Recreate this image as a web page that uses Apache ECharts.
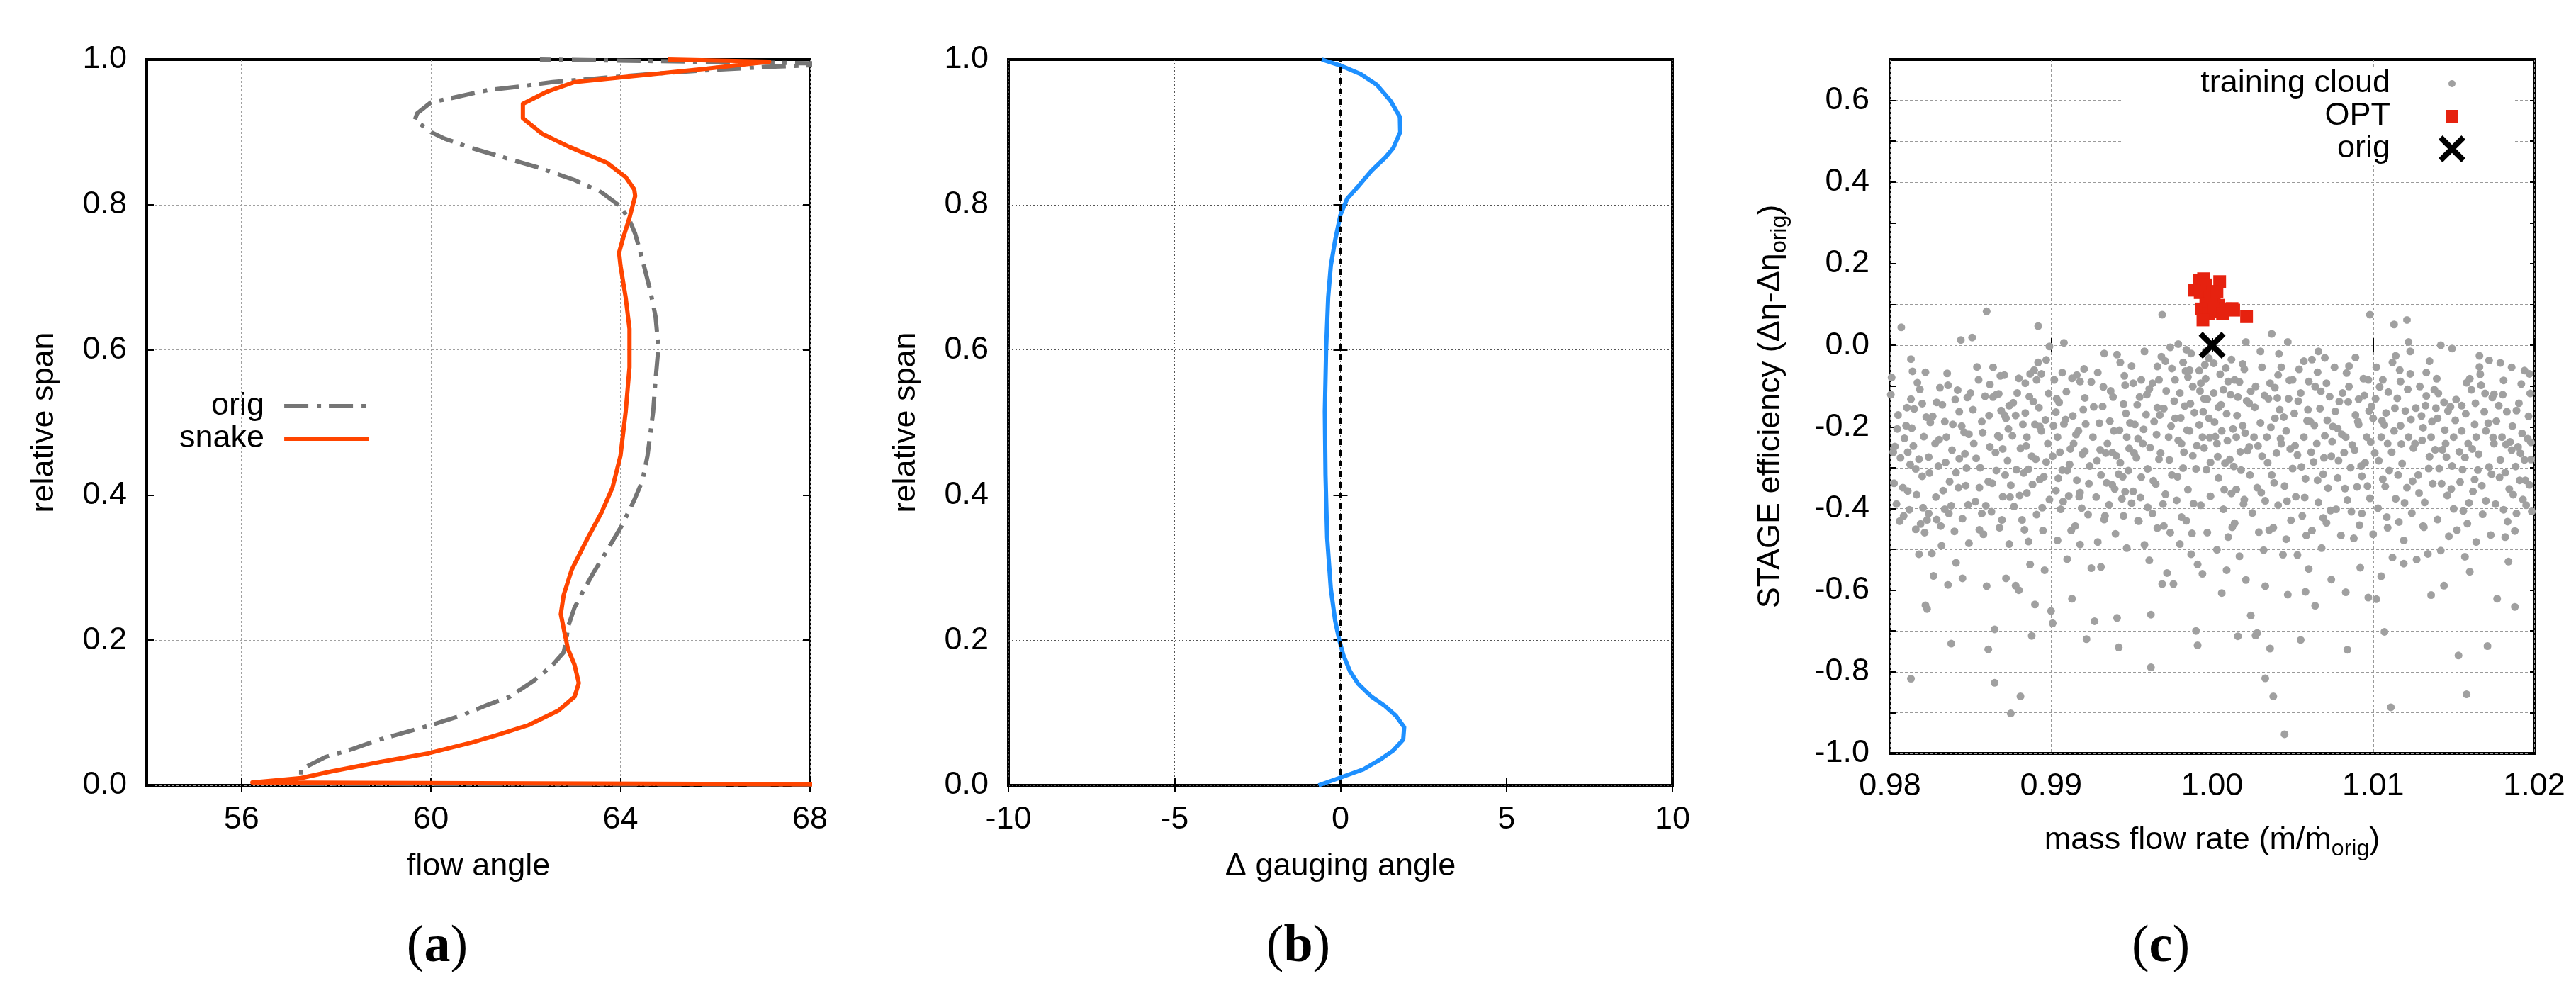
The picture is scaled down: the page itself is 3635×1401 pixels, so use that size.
<!DOCTYPE html>
<html><head><meta charset="utf-8">
<script src="https://cdn.jsdelivr.net/npm/echarts@6/dist/echarts.min.js"></script>
<style>html,body{margin:0;padding:0;background:#fff}#c{width:3635px;height:1401px}</style>
</head><body><div id="c"></div>
<script>
// ---------- DATA ----------
// (a) flow angle vs relative span
const flowOrig = [[70,0.001],[57.26,0.002],[57.26,0.022],[57.77,0.039],[58.34,0.050],[58.91,0.063],[60.00,0.083],[60.63,0.096],[61.20,0.111],[61.66,0.122],[62.17,0.144],[62.57,0.166],[62.80,0.183],[62.86,0.201],[62.89,0.218],[63.03,0.245],[63.20,0.266],[63.43,0.293],[63.71,0.323],[64.03,0.358],[64.29,0.393],[64.46,0.419],[64.57,0.454],[64.69,0.515],[64.74,0.559],[64.80,0.603],[64.74,0.646],[64.63,0.681],[64.46,0.725],[64.31,0.760],[64.17,0.782],[63.97,0.799],[63.60,0.817],[63.03,0.834],[62.23,0.852],[61.54,0.865],[60.86,0.878],[60.29,0.891],[60.00,0.900],[59.66,0.917],[59.71,0.926],[60.00,0.941],[60.51,0.948],[61.20,0.958],[61.89,0.963],[62.57,0.969],[63.49,0.974],[64.63,0.980],[65.77,0.985],[67.14,0.990],[68.00,0.992],[69.0,0.994],[62.3,1.0]];
const flowSnake = [[70,0.001],[56.23,0.004],[57.26,0.010],[57.89,0.019],[58.91,0.032],[59.94,0.044],[60.86,0.059],[61.43,0.070],[62.06,0.083],[62.69,0.103],[63.03,0.122],[63.12,0.141],[63.03,0.166],[62.89,0.188],[62.82,0.210],[62.74,0.236],[62.80,0.262],[62.97,0.297],[63.31,0.341],[63.60,0.376],[63.83,0.410],[64.00,0.454],[64.11,0.515],[64.19,0.576],[64.19,0.629],[64.11,0.672],[64.00,0.716],[63.97,0.734],[64.06,0.755],[64.19,0.782],[64.31,0.812],[64.29,0.821],[64.11,0.838],[63.71,0.858],[62.91,0.880],[62.34,0.898],[61.94,0.919],[61.94,0.939],[62.46,0.956],[63.03,0.969],[64.40,0.978],[65.77,0.987],[67.14,0.997],[65.0,1.0]];
const flowTicks = [56, 60, 64, 68];
// (b) delta gauging angle
const gauging = [[-0.66,0.0],[-0.04,0.010],[0.69,0.022],[1.18,0.035],[1.59,0.048],[1.89,0.063],[1.92,0.080],[1.67,0.096],[1.35,0.109],[0.94,0.122],[0.53,0.140],[0.29,0.157],[0.09,0.179],[-0.04,0.201],[-0.16,0.227],[-0.29,0.271],[-0.40,0.341],[-0.45,0.428],[-0.47,0.515],[-0.43,0.603],[-0.37,0.672],[-0.29,0.716],[-0.16,0.751],[0.0,0.786],[0.20,0.808],[0.53,0.825],[0.94,0.847],[1.35,0.865],[1.59,0.878],[1.80,0.900],[1.79,0.921],[1.51,0.943],[1.10,0.965],[0.61,0.980],[0.04,0.991],[-0.56,1.0]];
const zeroLine = [[0,0],[0,1]];
// (c) training cloud, OPT, orig
const trainingCloud = [
[0.9801,-0.079],[0.9803,-0.248],[0.9802,-0.262],[0.9804,-0.389],[0.9806,-0.431],[0.9807,0.044],[0.9809,-0.228],[0.9810,-0.197],[0.9811,-0.357],[0.9812,-0.403],[0.9813,-0.034],[0.9813,-0.132],[0.9814,-0.064],[0.9815,-0.156],[0.9816,-0.451],[0.9813,-0.817],[0.9817,-0.092],[0.9818,-0.279],[0.9819,-0.438],[0.9820,-0.321],[0.9821,-0.224],[0.9822,-0.066],[0.9822,-0.637],[0.9823,-0.646],[0.9824,-0.274],[0.9824,-0.412],[0.9825,-0.189],[0.9808,-0.349],[0.9805,-0.171],[0.9818,-0.512],[0.9823,-0.428],[0.9811,-0.262],[0.9816,-0.303],[0.9820,-0.143],
[0.9826,-0.510],[0.9827,-0.565],[0.9828,-0.241],[0.9829,-0.427],[0.9830,-0.296],[0.9831,-0.104],[0.9832,-0.491],[0.9833,-0.356],[0.9834,-0.187],[0.9835,-0.225],[0.9836,-0.587],[0.9836,-0.098],[0.9837,-0.334],[0.9838,-0.731],[0.9838,-0.393],[0.9839,-0.194],[0.9840,-0.456],[0.9841,-0.312],[0.9842,-0.110],[0.9843,-0.163],[0.9843,-0.278],[0.9844,0.013],[0.9845,-0.425],[0.9845,-0.571],[0.9846,-0.213],[0.9847,-0.344],[0.9848,-0.128],[0.9849,-0.218],[0.9849,-0.485],[0.9850,-0.117],[0.9851,0.019],[0.9834,-0.402],[0.9829,-0.140],[0.9841,-0.533],
[0.9852,-0.241],[0.9853,-0.383],[0.9854,-0.053],[0.9855,-0.085],[0.9856,-0.300],[0.9857,-0.187],[0.9858,-0.463],[0.9859,-0.125],[0.9860,0.083],[0.9860,-0.590],[0.9861,-0.745],[0.9861,-0.334],[0.9862,-0.096],[0.9862,-0.249],[0.9863,-0.408],[0.9864,-0.054],[0.9864,-0.127],[0.9865,-0.827],[0.9865,-0.696],[0.9866,-0.307],[0.9867,-0.222],[0.9868,-0.225],[0.9868,-0.447],[0.9869,-0.160],[0.9870,-0.371],[0.9871,-0.073],[0.9871,-0.171],[0.9872,-0.179],[0.9872,-0.571],[0.9873,-0.283],[0.9874,-0.148],[0.9874,-0.487],[0.9875,-0.902],[0.9875,-0.343],[0.9857,-0.412],[0.9866,-0.121],[0.9870,-0.254],
[0.9876,-0.222],[0.9877,-0.395],[0.9878,-0.589],[0.9879,-0.117],[0.9880,-0.081],[0.9880,-0.600],[0.9881,-0.253],[0.9881,-0.860],[0.9882,-0.428],[0.9883,-0.313],[0.9884,-0.093],[0.9884,-0.166],[0.9885,-0.225],[0.9885,-0.362],[0.9886,-0.481],[0.9887,-0.070],[0.9887,-0.537],[0.9888,-0.712],[0.9888,-0.272],[0.9889,-0.138],[0.9890,-0.194],[0.9890,-0.635],[0.9891,-0.085],[0.9891,-0.415],[0.9892,0.047],[0.9892,-0.042],[0.9893,-0.329],[0.9894,-0.210],[0.9894,-0.070],[0.9895,-0.454],[0.9896,-0.551],[0.9897,-0.036],[0.9897,-0.286],[0.9898,-0.241],[0.9899,-0.003],[0.9899,-0.378],[0.9878,-0.172],[0.9886,-0.304],[0.9893,-0.199],
[0.9900,-0.651],[0.9901,-0.272],[0.9901,-0.681],[0.9902,-0.085],[0.9903,-0.356],[0.9904,-0.225],[0.9904,-0.478],[0.9905,-0.140],[0.9906,-0.402],[0.9907,-0.067],[0.9907,-0.306],[0.9908,0.006],[0.9908,-0.193],[0.9909,-0.182],[0.9910,-0.524],[0.9911,-0.369],[0.9912,-0.254],[0.9913,-0.081],[0.9913,-0.621],[0.9914,-0.241],[0.9915,-0.443],[0.9916,-0.073],[0.9916,-0.331],[0.9917,-0.210],[0.9918,-0.089],[0.9918,-0.488],[0.9919,-0.399],[0.9920,-0.158],[0.9921,-0.129],[0.9921,-0.260],[0.9922,-0.720],[0.9923,-0.415],[0.9924,-0.296],[0.9925,-0.090],[0.9925,-0.546],[0.9910,-0.307],[0.9918,-0.361],[0.9903,-0.164],
[0.9926,-0.225],[0.9927,-0.676],[0.9928,-0.372],[0.9929,-0.067],[0.9929,-0.482],[0.9930,-0.191],[0.9931,-0.318],[0.9932,-0.150],[0.9933,-0.020],[0.9933,-0.427],[0.9934,-0.264],[0.9935,-0.241],[0.9936,-0.391],[0.9937,-0.112],[0.9938,-0.342],[0.9939,-0.210],[0.9940,-0.462],[0.9941,-0.023],[0.9941,-0.668],[0.9942,-0.316],[0.9942,-0.740],[0.9943,-0.042],[0.9943,-0.288],[0.9944,-0.376],[0.9945,-0.144],[0.9946,-0.098],[0.9946,-0.359],[0.9947,-0.225],[0.9947,-0.497],[0.9948,-0.307],[0.9949,-0.190],[0.9950,-0.387],[0.9950,-0.051],[0.9931,-0.543],[0.9938,-0.263],[0.9945,-0.418],
[0.9951,-0.093],[0.9951,-0.358],[0.9952,-0.194],[0.9953,-0.276],[0.9954,-0.430],[0.9955,-0.127],[0.9956,-0.085],[0.9956,-0.323],[0.9957,-0.241],[0.9958,-0.015],[0.9958,-0.489],[0.9959,-0.170],[0.9960,-0.303],[0.9960,-0.397],[0.9961,-0.107],[0.9962,-0.789],[0.9962,-0.660],[0.9963,-0.093],[0.9963,-0.412],[0.9964,-0.187],[0.9965,-0.340],[0.9966,-0.052],[0.9966,-0.448],[0.9967,-0.085],[0.9967,-0.279],[0.9968,-0.264],[0.9969,0.075],[0.9969,-0.585],[0.9970,-0.443],[0.9970,-0.155],[0.9971,-0.039],[0.9971,-0.365],[0.9972,-0.558],[0.9973,-0.225],[0.9974,-0.005],[0.9974,-0.459],[0.9975,-0.057],[0.9975,-0.318],[0.9954,-0.229],[0.9961,-0.527],[0.9966,-0.153],
[0.9976,-0.585],[0.9977,-0.085],[0.9977,-0.179],[0.9978,-0.380],[0.9979,0.003],[0.9979,-0.233],[0.9980,-0.117],[0.9980,-0.487],[0.9981,-0.241],[0.9982,-0.042],[0.9982,-0.301],[0.9983,-0.149],[0.9984,-0.011],[0.9984,-0.430],[0.9985,-0.078],[0.9985,-0.354],[0.9986,-0.210],[0.9987,-0.020],[0.9987,-0.512],[0.9988,-0.101],[0.9988,-0.271],[0.9989,-0.165],[0.9990,-0.303],[0.9990,-0.700],[0.9991,-0.537],[0.9991,-0.735],[0.9992,-0.062],[0.9993,-0.093],[0.9993,-0.392],[0.9994,-0.225],[0.9994,-0.560],[0.9995,-0.131],[0.9996,-0.015],[0.9996,-0.082],[0.9997,-0.132],[0.9997,-0.459],[0.9998,-0.179],[0.9998,-0.032],[0.9999,-0.287],[0.9999,-0.370],[0.9981,-0.421],[0.9986,-0.061],[0.9992,-0.195],[0.9995,-0.252],
[1.0001,-0.117],[1.0001,-0.044],[1.0002,-0.224],[1.0003,-0.241],[1.0003,-0.501],[1.0004,-0.325],[1.0005,-0.071],[1.0006,-0.210],[1.0006,-0.607],[1.0007,-0.109],[1.0007,-0.402],[1.0008,-0.289],[1.0009,-0.168],[1.0010,-0.089],[1.0010,-0.470],[1.0011,-0.280],[1.0012,-0.035],[1.0012,-0.363],[1.0013,-0.205],[1.0014,-0.085],[1.0014,-0.436],[1.0015,-0.225],[1.0016,-0.713],[1.0016,-0.127],[1.0017,-0.090],[1.0017,-0.517],[1.0018,-0.306],[1.0019,-0.197],[1.0019,-0.046],[1.0020,-0.059],[1.0020,-0.378],[1.0021,0.008],[1.0021,-0.575],[1.0022,-0.258],[1.0023,-0.249],[1.0023,-0.142],[1.0024,-0.113],[1.0024,-0.662],[1.0025,-0.411],[1.0004,-0.152],[1.0009,-0.551],[1.0015,-0.353],
[1.0026,-0.225],[1.0027,-0.101],[1.0027,-0.711],[1.0028,-0.349],[1.0028,-0.705],[1.0029,-0.458],[1.0030,-0.015],[1.0030,-0.190],[1.0031,-0.272],[1.0031,-0.054],[1.0032,-0.502],[1.0033,-0.816],[1.0033,-0.381],[1.0034,-0.225],[1.0035,-0.131],[1.0036,-0.093],[1.0036,-0.743],[1.0037,0.028],[1.0037,-0.318],[1.0038,-0.860],[1.0038,-0.447],[1.0039,-0.179],[1.0039,-0.104],[1.0040,-0.264],[1.0041,-0.392],[1.0042,-0.158],[1.0043,-0.054],[1.0043,-0.241],[1.0044,-0.513],[1.0045,-0.953],[1.0045,-0.345],[1.0046,-0.210],[1.0047,0.008],[1.0047,-0.611],[1.0048,-0.086],[1.0049,-0.429],[1.0050,-0.085],[1.0050,-0.302],[1.0033,-0.590],[1.0041,-0.073],[1.0046,-0.475],
[1.0051,-0.167],[1.0052,-0.371],[1.0053,-0.269],[1.0053,-0.514],[1.0054,-0.059],[1.0055,-0.117],[1.0055,-0.722],[1.0056,-0.418],[1.0057,-0.039],[1.0057,-0.225],[1.0058,-0.327],[1.0059,-0.185],[1.0060,-0.089],[1.0060,-0.548],[1.0061,-0.187],[1.0062,-0.454],[1.0063,-0.286],[1.0064,-0.101],[1.0064,-0.638],[1.0065,-0.241],[1.0066,-0.015],[1.0066,-0.385],[1.0067,-0.155],[1.0068,-0.497],[1.0069,-0.316],[1.0070,-0.031],[1.0070,-0.222],[1.0071,-0.093],[1.0071,-0.435],[1.0072,-0.350],[1.0073,-0.126],[1.0074,-0.272],[1.0074,-0.574],[1.0075,-0.199],[1.0058,-0.604],[1.0062,-0.035],[1.0069,-0.423],
[1.0076,-0.054],[1.0077,-0.402],[1.0078,-0.204],[1.0078,-0.325],[1.0079,-0.138],[1.0080,-0.466],[1.0081,-0.117],[1.0082,-0.263],[1.0083,-0.225],[1.0083,-0.605],[1.0084,-0.379],[1.0085,-0.051],[1.0085,-0.101],[1.0086,-0.300],[1.0087,-0.244],[1.0088,-0.473],[1.0089,-0.171],[1.0090,-0.347],[1.0091,-0.132],[1.0091,-0.194],[1.0092,-0.545],[1.0093,-0.412],[1.0094,-0.082],[1.0095,-0.288],[1.0096,-0.225],[1.0097,-0.085],[1.0097,-0.618],[1.0098,0.075],[1.0098,-0.375],[1.0099,-0.150],[1.0100,-0.179],[1.0100,-0.463],[1.0084,-0.746],[1.0089,-0.030],[1.0093,-0.321],
[1.0101,-0.264],[1.0102,-0.054],[1.0102,-0.622],[1.0103,-0.399],[1.0104,-0.102],[1.0105,-0.225],[1.0105,-0.566],[1.0106,-0.085],[1.0106,-0.328],[1.0107,-0.702],[1.0108,-0.166],[1.0109,-0.241],[1.0109,-0.447],[1.0110,-0.307],[1.0111,-0.887],[1.0112,-0.042],[1.0112,-0.520],[1.0113,-0.210],[1.0113,0.051],[1.0114,-0.026],[1.0114,-0.376],[1.0115,-0.130],[1.0116,-0.433],[1.0117,-0.197],[1.0117,-0.089],[1.0118,-0.290],[1.0119,-0.535],[1.0120,-0.161],[1.0121,0.062],[1.0121,-0.349],[1.0122,0.008],[1.0122,-0.225],[1.0123,-0.070],[1.0123,-0.015],[1.0124,-0.411],[1.0125,-0.252],[1.0107,-0.195],[1.0119,-0.478],
[1.0126,-0.241],[1.0127,-0.525],[1.0128,-0.318],[1.0129,-0.101],[1.0130,-0.173],[1.0131,-0.202],[1.0131,-0.443],[1.0132,-0.385],[1.0133,-0.067],[1.0133,-0.124],[1.0134,-0.511],[1.0135,-0.273],[1.0136,-0.225],[1.0136,-0.612],[1.0137,-0.339],[1.0138,-0.109],[1.0139,-0.154],[1.0140,-0.179],[1.0140,-0.427],[1.0141,-0.302],[1.0142,0.000],[1.0143,-0.256],[1.0144,-0.140],[1.0144,-0.589],[1.0145,-0.241],[1.0146,-0.368],[1.0147,-0.468],[1.0148,-0.151],[1.0149,-0.008],[1.0149,-0.296],[1.0150,-0.225],[1.0150,-0.401],[1.0135,-0.039],[1.0142,-0.503],
[1.0151,-0.184],[1.0152,-0.453],[1.0153,-0.760],[1.0154,-0.335],[1.0155,-0.210],[1.0155,-0.148],[1.0156,-0.406],[1.0157,-0.275],[1.0158,-0.855],[1.0158,-0.092],[1.0159,-0.241],[1.0160,-0.082],[1.0160,-0.555],[1.0161,-0.109],[1.0162,-0.358],[1.0163,-0.194],[1.0164,-0.225],[1.0164,-0.482],[1.0165,-0.306],[1.0166,-0.026],[1.0166,-0.053],[1.0167,-0.098],[1.0168,-0.414],[1.0169,-0.163],[1.0170,-0.210],[1.0170,-0.381],[1.0171,-0.737],[1.0172,-0.037],[1.0172,-0.298],[1.0173,-0.465],[1.0174,-0.128],[1.0175,-0.241],[1.0175,-0.120],[1.0157,-0.518],[1.0163,-0.329],
[1.0176,-0.389],[1.0177,-0.621],[1.0178,-0.148],[1.0179,-0.043],[1.0179,-0.281],[1.0180,-0.225],[1.0181,-0.403],[1.0182,-0.470],[1.0182,-0.312],[1.0183,-0.163],[1.0184,-0.530],[1.0185,-0.237],[1.0186,-0.054],[1.0186,-0.257],[1.0187,-0.366],[1.0188,-0.641],[1.0189,-0.160],[1.0189,-0.412],[1.0190,-0.249],[1.0191,-0.331],[1.0192,-0.095],[1.0193,-0.378],[1.0194,-0.062],[1.0194,-0.281],[1.0195,-0.392],[1.0196,-0.229],[1.0197,-0.070],[1.0197,-0.342],[1.0198,-0.280],[1.0198,-0.238],[1.0181,-0.086],[1.0188,-0.455],
[0.98005,-0.121],[0.98025,-0.338],[0.98045,-0.205],[0.98065,-0.276],[0.98085,-0.418],[0.98105,-0.153],[0.98125,-0.292],[0.98145,-0.247],[0.98165,-0.366],[0.98185,-0.108],[0.98205,-0.398],[0.98225,-0.176],[0.98245,-0.313],[0.98215,-0.459],[0.98135,-0.203],
[0.98265,-0.174],[0.98285,-0.372],[0.98305,-0.231],[0.98325,-0.146],[0.98345,-0.287],[0.98365,-0.412],[0.98385,-0.257],[0.98405,-0.133],[0.98425,-0.349],[0.98445,-0.198],[0.98465,-0.266],[0.98485,-0.391],[0.98355,-0.069],[0.98475,-0.301],[0.98315,-0.443],
[0.98515,-0.158],[0.98535,-0.277],[0.98555,-0.349],[0.98575,-0.214],[0.98595,-0.393],[0.98615,-0.172],[0.98635,-0.338],[0.98655,-0.263],[0.98675,-0.119],[0.98695,-0.428],[0.98715,-0.318],[0.98735,-0.205],[0.98555,-0.452],[0.98685,-0.075],[0.98745,-0.372],
[0.98765,-0.141],[0.98785,-0.305],[0.98805,-0.368],[0.98825,-0.194],[0.98845,-0.247],[0.98865,-0.126],[0.98885,-0.341],[0.98905,-0.279],[0.98925,-0.153],[0.98945,-0.398],[0.98965,-0.183],[0.98985,-0.118],[0.98835,-0.452],[0.98955,-0.322],[0.98895,-0.061],
[0.99015,-0.197],[0.99035,-0.131],[0.99055,-0.262],[0.99075,-0.383],[0.99095,-0.114],[0.99115,-0.292],[0.99135,-0.173],[0.99155,-0.219],[0.99175,-0.371],[0.99195,-0.267],[0.99215,-0.193],[0.99235,-0.339],[0.99125,-0.454],[0.99045,-0.326],[0.99205,-0.058],
[0.99265,-0.151],[0.99285,-0.283],[0.99305,-0.256],[0.99325,-0.102],[0.99345,-0.337],[0.99365,-0.186],[0.99385,-0.127],[0.99405,-0.271],[0.99425,-0.208],[0.99445,-0.322],[0.99465,-0.167],[0.99485,-0.253],[0.99335,-0.418],[0.99455,-0.075],[0.99395,-0.352],
[0.99515,-0.264],[0.99535,-0.146],[0.99555,-0.373],[0.99575,-0.206],[0.99595,-0.121],[0.99615,-0.251],[0.99635,-0.332],[0.99655,-0.219],[0.99675,-0.171],[0.99695,-0.389],[0.99715,-0.112],[0.99735,-0.281],[0.99545,-0.431],[0.99685,-0.028],[0.99745,-0.198],
[0.99765,-0.137],[0.99785,-0.322],[0.99805,-0.178],[0.99825,-0.262],[0.99845,-0.208],[0.99865,-0.143],[0.99885,-0.388],[0.99905,-0.246],[0.99925,-0.112],[0.99945,-0.163],[0.99965,-0.305],[0.99985,-0.226],[0.99835,-0.063],[0.99955,-0.048],[0.99875,-0.461],
[1.00015,-0.188],[1.00035,-0.273],[1.00055,-0.146],[1.00075,-0.354],[1.00095,-0.234],[1.00115,-0.121],[1.00135,-0.297],[1.00155,-0.172],[1.00175,-0.261],[1.00195,-0.389],[1.00215,-0.136],[1.00235,-0.318],[1.00085,-0.056],[1.00205,-0.215],[1.00125,-0.446],
[1.00265,-0.152],[1.00285,-0.247],[1.00305,-0.361],[1.00325,-0.123],[1.00345,-0.288],[1.00365,-0.201],[1.00385,-0.337],[1.00405,-0.129],[1.00425,-0.229],[1.00445,-0.176],[1.00465,-0.382],[1.00485,-0.254],[1.00355,-0.453],[1.00415,-0.021],[1.00475,-0.131],
[1.00515,-0.246],[1.00535,-0.137],[1.00555,-0.298],[1.00575,-0.373],[1.00595,-0.158],[1.00615,-0.262],[1.00635,-0.196],[1.00655,-0.331],[1.00675,-0.113],[1.00695,-0.276],[1.00715,-0.184],[1.00735,-0.405],[1.00585,-0.466],[1.00655,-0.066],[1.00745,-0.236],
[1.00765,-0.162],[1.00785,-0.283],[1.00805,-0.218],[1.00825,-0.351],[1.00845,-0.139],[1.00865,-0.408],[1.00885,-0.257],[1.00905,-0.187],[1.00925,-0.296],[1.00945,-0.123],[1.00965,-0.345],[1.00985,-0.237],[1.00835,-0.068],[1.00915,-0.441],[1.00975,-0.161],
[1.01015,-0.131],[1.01035,-0.283],[1.01055,-0.185],[1.01075,-0.346],[1.01095,-0.115],[1.01115,-0.262],[1.01135,-0.154],[1.01155,-0.318],[1.01175,-0.242],[1.01195,-0.386],[1.01215,-0.108],[1.01235,-0.182],[1.01085,-0.421],[1.01165,-0.061],[1.01245,-0.333],
[1.01265,-0.154],[1.01285,-0.362],[1.01305,-0.233],[1.01325,-0.148],[1.01345,-0.302],[1.01365,-0.187],[1.01385,-0.256],[1.01405,-0.118],[1.01425,-0.339],[1.01445,-0.208],[1.01465,-0.161],[1.01485,-0.352],[1.01315,-0.446],[1.01395,-0.082],[1.01455,-0.274],
[1.01515,-0.133],[1.01535,-0.261],[1.01555,-0.305],[1.01575,-0.168],[1.01595,-0.386],[1.01615,-0.254],[1.01635,-0.142],[1.01655,-0.267],[1.01675,-0.344],[1.01695,-0.118],[1.01715,-0.191],[1.01735,-0.316],[1.01585,-0.437],[1.01665,-0.071],[1.01745,-0.226],
[1.01765,-0.186],[1.01785,-0.324],[1.01805,-0.121],[1.01825,-0.243],[1.01845,-0.352],[1.01865,-0.198],[1.01885,-0.297],[1.01905,-0.142],[1.01925,-0.216],[1.01945,-0.331],[1.01965,-0.174],[1.01985,-0.407],[1.01835,-0.432],[1.01915,-0.265],[1.01975,-0.118]
];
const optPoints = [[0.99919,0.159],[0.99947,0.163],[0.99961,0.148],[0.99891,0.135],[0.99926,0.129],[0.99985,0.117],[1.00047,0.156],[1.00013,0.109],[0.99961,0.101],[1.00041,0.098],[1.00082,0.089],[1.00124,0.090],[0.99936,0.089],[0.99978,0.078],[1.00013,0.083],[1.00065,0.078],[1.00134,0.086],[1.00214,0.070],[0.99943,0.062],[0.99995,0.120],[1.00030,0.132]];
const origPoint = [[1.000, 0.000]];

// ---------- STYLE ----------
const F = '"Liberation Sans", Arial, Helvetica, sans-serif';
const SERIF = '"Liberation Serif", "Times New Roman", serif';
const FS = 45;
const labelBase = {color:'#000', fontSize:FS, fontFamily:F};
const tickBase = {show:true, inside:true, length:10, lineStyle:{color:'#000', width:2}};
const gridA = {color:'#a0a0a0', type:[3,3], width:1};
const gridB = {color:'#555', type:[2,3], width:1};
const gridC = {color:'#9a9a9a', type:[4,3], width:1};
const nameStyle = {color:'#000', fontSize:FS, fontFamily:F};
const xPath = 'path://M1.5,0 L5,3.5 L8.5,0 L10,1.5 L6.5,5 L10,8.5 L8.5,10 L5,6.5 L1.5,10 L0,8.5 L3.5,5 L0,1.5 Z';

function mirrorX(gi, min, max, extra) {
  return Object.assign({gridIndex:gi, type:'value', position:'top', min, max,
    axisLine:{show:false}, axisTick:Object.assign({}, tickBase), axisLabel:{show:false}, splitLine:{show:false}}, extra||{});
}
function mirrorY(gi, min, max, extra) {
  return Object.assign({gridIndex:gi, type:'value', position:'right', min, max,
    axisLine:{show:false}, axisTick:Object.assign({}, tickBase), axisLabel:{show:false}, splitLine:{show:false}}, extra||{});
}
const gridCommon = {show:true, borderColor:'#000', borderWidth:4, backgroundColor:'transparent', containLabel:false, outerBoundsMode:'none'};

const option = {
  animation:false,
  backgroundColor:'#fff',
  grid:[
    Object.assign({left:207, top:84, width:936, height:1024}, gridCommon),
    Object.assign({left:1423, top:84, width:937, height:1024}, gridCommon),
    Object.assign({left:2667, top:84, width:909, height:979}, gridCommon)
  ],
  xAxis:[
    {gridIndex:0, type:'value', min:54, max:68, position:'bottom',
      axisLine:{show:false}, axisTick:Object.assign({customValues:flowTicks}, tickBase),
      axisLabel:Object.assign({margin:26, customValues:flowTicks}, labelBase),
      splitLine:{show:true, lineStyle:gridA},
      name:'flow angle', nameLocation:'middle', nameGap:92, nameMoveOverlap:false, nameTextStyle:nameStyle},
    mirrorX(0, 54, 68, {axisTick:Object.assign({customValues:flowTicks}, tickBase)}),
    {gridIndex:1, type:'value', min:-10, max:10, interval:5, position:'bottom',
      axisLine:{show:false}, axisTick:tickBase,
      axisLabel:Object.assign({margin:26}, labelBase),
      splitLine:{show:true, lineStyle:gridB},
      name:'Δ gauging angle', nameLocation:'middle', nameGap:92, nameMoveOverlap:false, nameTextStyle:nameStyle},
    mirrorX(1, -10, 10, {interval:5}),
    {gridIndex:2, type:'value', min:0.98, max:1.02, interval:0.01, position:'bottom',
      axisLine:{show:false}, axisTick:tickBase,
      axisLabel:Object.assign({margin:24, formatter:v=>v.toFixed(2)}, labelBase),
      splitLine:{show:true, lineStyle:gridC},
      name:'{a|mass flow rate (ṁ/ṁ}{s|orig}{a|)}', nameLocation:'middle', nameGap:95, nameMoveOverlap:false,
      nameTextStyle:{rich:{a:{color:'#000', fontSize:FS, fontFamily:F, lineHeight:56}, s:{color:'#000', fontSize:32, fontFamily:F, lineHeight:32, verticalAlign:'bottom'}}}},
    mirrorX(2, 0.98, 1.02, {interval:0.01})
  ],
  yAxis:[
    {gridIndex:0, type:'value', min:0, max:1, interval:0.2, position:'left',
      axisLine:{show:false}, axisTick:tickBase,
      axisLabel:Object.assign({margin:28, formatter:v=>v.toFixed(1)}, labelBase),
      splitLine:{show:true, lineStyle:gridA},
      name:'relative span', nameLocation:'middle', nameGap:122, nameRotate:90, nameMoveOverlap:false, nameTextStyle:nameStyle},
    mirrorY(0, 0, 1, {interval:0.2}),
    {gridIndex:1, type:'value', min:0, max:1, interval:0.2, position:'left',
      axisLine:{show:false}, axisTick:tickBase,
      axisLabel:Object.assign({margin:28, formatter:v=>v.toFixed(1)}, labelBase),
      splitLine:{show:true, lineStyle:gridB},
      name:'relative span', nameLocation:'middle', nameGap:122, nameRotate:90, nameMoveOverlap:false, nameTextStyle:nameStyle},
    mirrorY(1, 0, 1, {interval:0.2}),
    {gridIndex:2, type:'value', min:-1.0, max:0.7, interval:0.1, position:'left',
      axisLine:{show:false}, axisTick:Object.assign({}, tickBase, {length:9}),
      axisLabel:Object.assign({margin:29, formatter:v=>{const k=Math.round(v*10); return k%2===0 ? (k/10).toFixed(1) : '';}}, labelBase),
      splitLine:{show:true, lineStyle:gridC},
      name:'{a|STAGE efficiency (Δη-Δη}{s|orig}{a|)}', nameLocation:'middle', nameGap:140, nameRotate:90, nameMoveOverlap:false,
      nameTextStyle:{rich:{a:{color:'#000', fontSize:FS, fontFamily:F, lineHeight:56}, s:{color:'#000', fontSize:32, fontFamily:F, lineHeight:32, verticalAlign:'bottom'}}}},
    mirrorY(2, -1.0, 0.7, {interval:0.1, axisTick:Object.assign({}, tickBase, {length:6})})
  ],
  legend:[
    {data:['orig','snake'], left:253, top:550, orient:'vertical', align:'right', selectedMode:false,
      itemWidth:119, itemHeight:20, itemGap:0, padding:0,
      itemStyle:{opacity:0, borderWidth:0},
      lineStyle:{width:6, cap:'butt'},
      textStyle:{color:'#000', fontSize:FS, fontFamily:F, lineHeight:46, padding:[0,23,0,0]}},
    {data:[
        {name:'training cloud', icon:'path://M0,0 M38,38 M14,19 A5,5,0,1,1,24,19 A5,5,0,1,1,14,19 Z'},
        {name:'OPT', icon:'path://M0,0 M38,38 M10,10 L28,10 L28,28 L10,28 Z'},
        {name:'orig ', icon:xPath}],
      right:88, top:95, orient:'vertical', align:'right', selectedMode:false,
      itemWidth:38, itemHeight:38, itemGap:0, padding:[0,68,0,112], backgroundColor:'#fff',
      formatter:n=>n.trim(),
      textStyle:{color:'#000', fontSize:FS, fontFamily:F, lineHeight:46, padding:[0,63,0,0]}}
  ],
  graphic:[
    {type:'text', x:617, y:1337, style:{text:'{p|(}{b|a}{p|)}', align:'center', verticalAlign:'middle',
      rich:{p:{fontFamily:SERIF, fontSize:74, fill:'#000'}, b:{fontFamily:SERIF, fontSize:74, fontWeight:'bold', fill:'#000'}}}},
    {type:'text', x:1832, y:1337, style:{text:'{p|(}{b|b}{p|)}', align:'center', verticalAlign:'middle',
      rich:{p:{fontFamily:SERIF, fontSize:74, fill:'#000'}, b:{fontFamily:SERIF, fontSize:74, fontWeight:'bold', fill:'#000'}}}},
    {type:'text', x:3049, y:1337, style:{text:'{p|(}{b|c}{p|)}', align:'center', verticalAlign:'middle',
      rich:{p:{fontFamily:SERIF, fontSize:74, fill:'#000'}, b:{fontFamily:SERIF, fontSize:74, fontWeight:'bold', fill:'#000'}}}}
  ],
  series:[
    {name:'orig', type:'line', xAxisIndex:0, yAxisIndex:0, data:flowOrig, symbol:'none', showSymbol:false, clip:true,
      lineStyle:{color:'#757575', width:6, type:[34,12,6,11], cap:'butt', join:'round'}, itemStyle:{color:'#757575'}},
    {name:'snake', type:'line', xAxisIndex:0, yAxisIndex:0, data:flowSnake, symbol:'none', showSymbol:false, clip:true,
      lineStyle:{color:'#ff4500', width:6, cap:'butt', join:'round'}, itemStyle:{color:'#ff4500'}},
    {name:'gauging', type:'line', xAxisIndex:2, yAxisIndex:2, data:gauging, symbol:'none', showSymbol:false, clip:true,
      lineStyle:{color:'#1e90ff', width:6, join:'round'}},
    {name:'zero', type:'line', xAxisIndex:2, yAxisIndex:2, data:zeroLine, symbol:'none', showSymbol:false, clip:true, z:3,
      lineStyle:{color:'#000', width:5, type:[8,7], cap:'butt'}},
    {name:'training cloud', type:'scatter', xAxisIndex:4, yAxisIndex:4, data:trainingCloud, symbol:'circle', symbolSize:11,
      itemStyle:{color:'#a0a0a0', opacity:1}},
    {name:'OPT', type:'scatter', xAxisIndex:4, yAxisIndex:4, data:optPoints, symbol:'rect', symbolSize:18,
      itemStyle:{color:'#e6220f', opacity:1}},
    {name:'orig ', type:'scatter', xAxisIndex:4, yAxisIndex:4, data:origPoint, symbol:xPath, symbolSize:38, z:4,
      itemStyle:{color:'#000', opacity:1}}
  ]
};
const chart = echarts.init(document.getElementById('c'), null, {renderer:'canvas'});
chart.setOption(option);
</script>
</body></html>
